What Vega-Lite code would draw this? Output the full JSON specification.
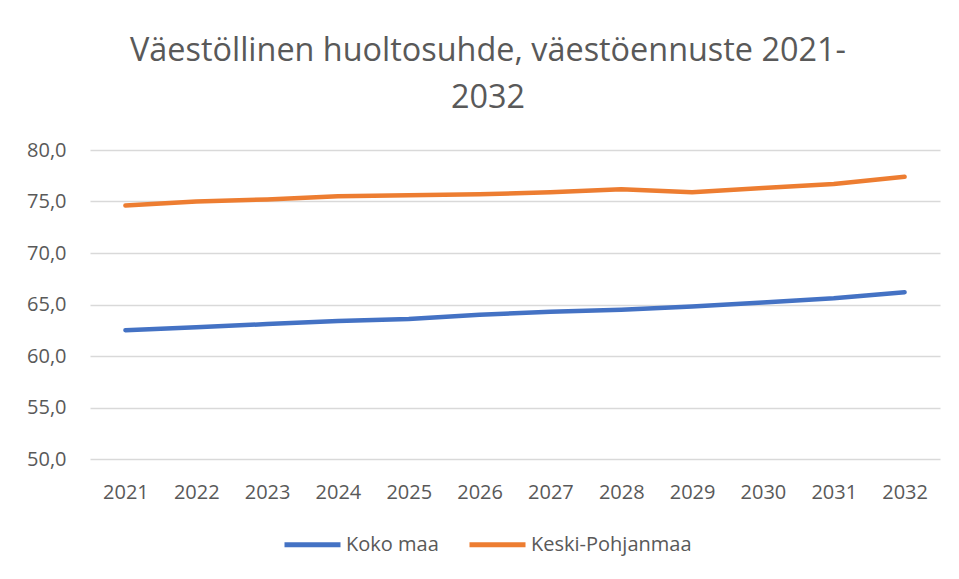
{
  "$schema": "https://vega.github.io/schema/vega-lite/v6.json",
  "width": 850,
  "height": 309,
  "autosize": {"type": "none"},
  "padding": {"left": 90, "top": 150, "right": 19, "bottom": 120},
  "background": "white",
  "title": {
    "text": ["Väestöllinen huoltosuhde, väestöennuste 2021-", "2032"],
    "font": "Open Sans",
    "fontSize": 32.4,
    "fontWeight": 400,
    "color": "#595959",
    "anchor": "middle",
    "dx": -27,
    "offset": 26,
    "lineHeight": 47
  },
  "data": {
    "values": [
      {"vuosi": "2021", "alue": "Koko maa", "arvo": 62.5},
      {"vuosi": "2022", "alue": "Koko maa", "arvo": 62.8},
      {"vuosi": "2023", "alue": "Koko maa", "arvo": 63.1},
      {"vuosi": "2024", "alue": "Koko maa", "arvo": 63.4},
      {"vuosi": "2025", "alue": "Koko maa", "arvo": 63.6},
      {"vuosi": "2026", "alue": "Koko maa", "arvo": 64.0},
      {"vuosi": "2027", "alue": "Koko maa", "arvo": 64.3},
      {"vuosi": "2028", "alue": "Koko maa", "arvo": 64.5},
      {"vuosi": "2029", "alue": "Koko maa", "arvo": 64.8},
      {"vuosi": "2030", "alue": "Koko maa", "arvo": 65.2},
      {"vuosi": "2031", "alue": "Koko maa", "arvo": 65.6},
      {"vuosi": "2032", "alue": "Koko maa", "arvo": 66.2},
      {"vuosi": "2021", "alue": "Keski-Pohjanmaa", "arvo": 74.6},
      {"vuosi": "2022", "alue": "Keski-Pohjanmaa", "arvo": 75.0},
      {"vuosi": "2023", "alue": "Keski-Pohjanmaa", "arvo": 75.2},
      {"vuosi": "2024", "alue": "Keski-Pohjanmaa", "arvo": 75.5},
      {"vuosi": "2025", "alue": "Keski-Pohjanmaa", "arvo": 75.6},
      {"vuosi": "2026", "alue": "Keski-Pohjanmaa", "arvo": 75.7},
      {"vuosi": "2027", "alue": "Keski-Pohjanmaa", "arvo": 75.9},
      {"vuosi": "2028", "alue": "Keski-Pohjanmaa", "arvo": 76.2},
      {"vuosi": "2029", "alue": "Keski-Pohjanmaa", "arvo": 75.9},
      {"vuosi": "2030", "alue": "Keski-Pohjanmaa", "arvo": 76.3},
      {"vuosi": "2031", "alue": "Keski-Pohjanmaa", "arvo": 76.7},
      {"vuosi": "2032", "alue": "Keski-Pohjanmaa", "arvo": 77.4}
    ]
  },
  "mark": {"type": "line", "strokeWidth": 4.5, "strokeCap": "round", "strokeJoin": "round"},
  "encoding": {
    "x": {
      "field": "vuosi",
      "type": "ordinal",
      "scale": {"type": "point", "padding": 0.5},
      "axis": {
        "title": null,
        "ticks": false,
        "domain": false,
        "grid": false,
        "labelAngle": 0,
        "labelFont": "Open Sans",
        "labelFontSize": 20,
        "labelColor": "#595959",
        "labelPadding": 23
      }
    },
    "y": {
      "field": "arvo",
      "type": "quantitative",
      "scale": {"domain": [50, 80], "nice": false, "zero": false},
      "axis": {
        "title": null,
        "values": [50, 55, 60, 65, 70, 75, 80],
        "labelExpr": "replace(format(datum.value, '.1f'), '.', ',')",
        "ticks": false,
        "domain": false,
        "grid": true,
        "gridColor": "#D9D9D9",
        "gridWidth": 1.5,
        "labelFont": "Open Sans",
        "labelFontSize": 20,
        "labelColor": "#595959",
        "labelPadding": 24
      }
    },
    "color": {
      "field": "alue",
      "type": "nominal",
      "sort": ["Koko maa", "Keski-Pohjanmaa"],
      "scale": {"domain": ["Koko maa", "Keski-Pohjanmaa"], "range": ["#4472C4", "#ED7D31"]},
      "legend": {
        "title": null,
        "orient": "none",
        "direction": "horizontal",
        "legendX": 192,
        "legendY": 364,
        "symbolType": "stroke",
        "symbolSize": 3136,
        "symbolStrokeWidth": 5,
        "labelFont": "Open Sans",
        "labelFontSize": 20,
        "labelColor": "#595959",
        "labelOffset": 3,
        "labelLimit": 400,
        "columnPadding": 20
      }
    }
  },
  "config": {"view": {"stroke": null}}
}
